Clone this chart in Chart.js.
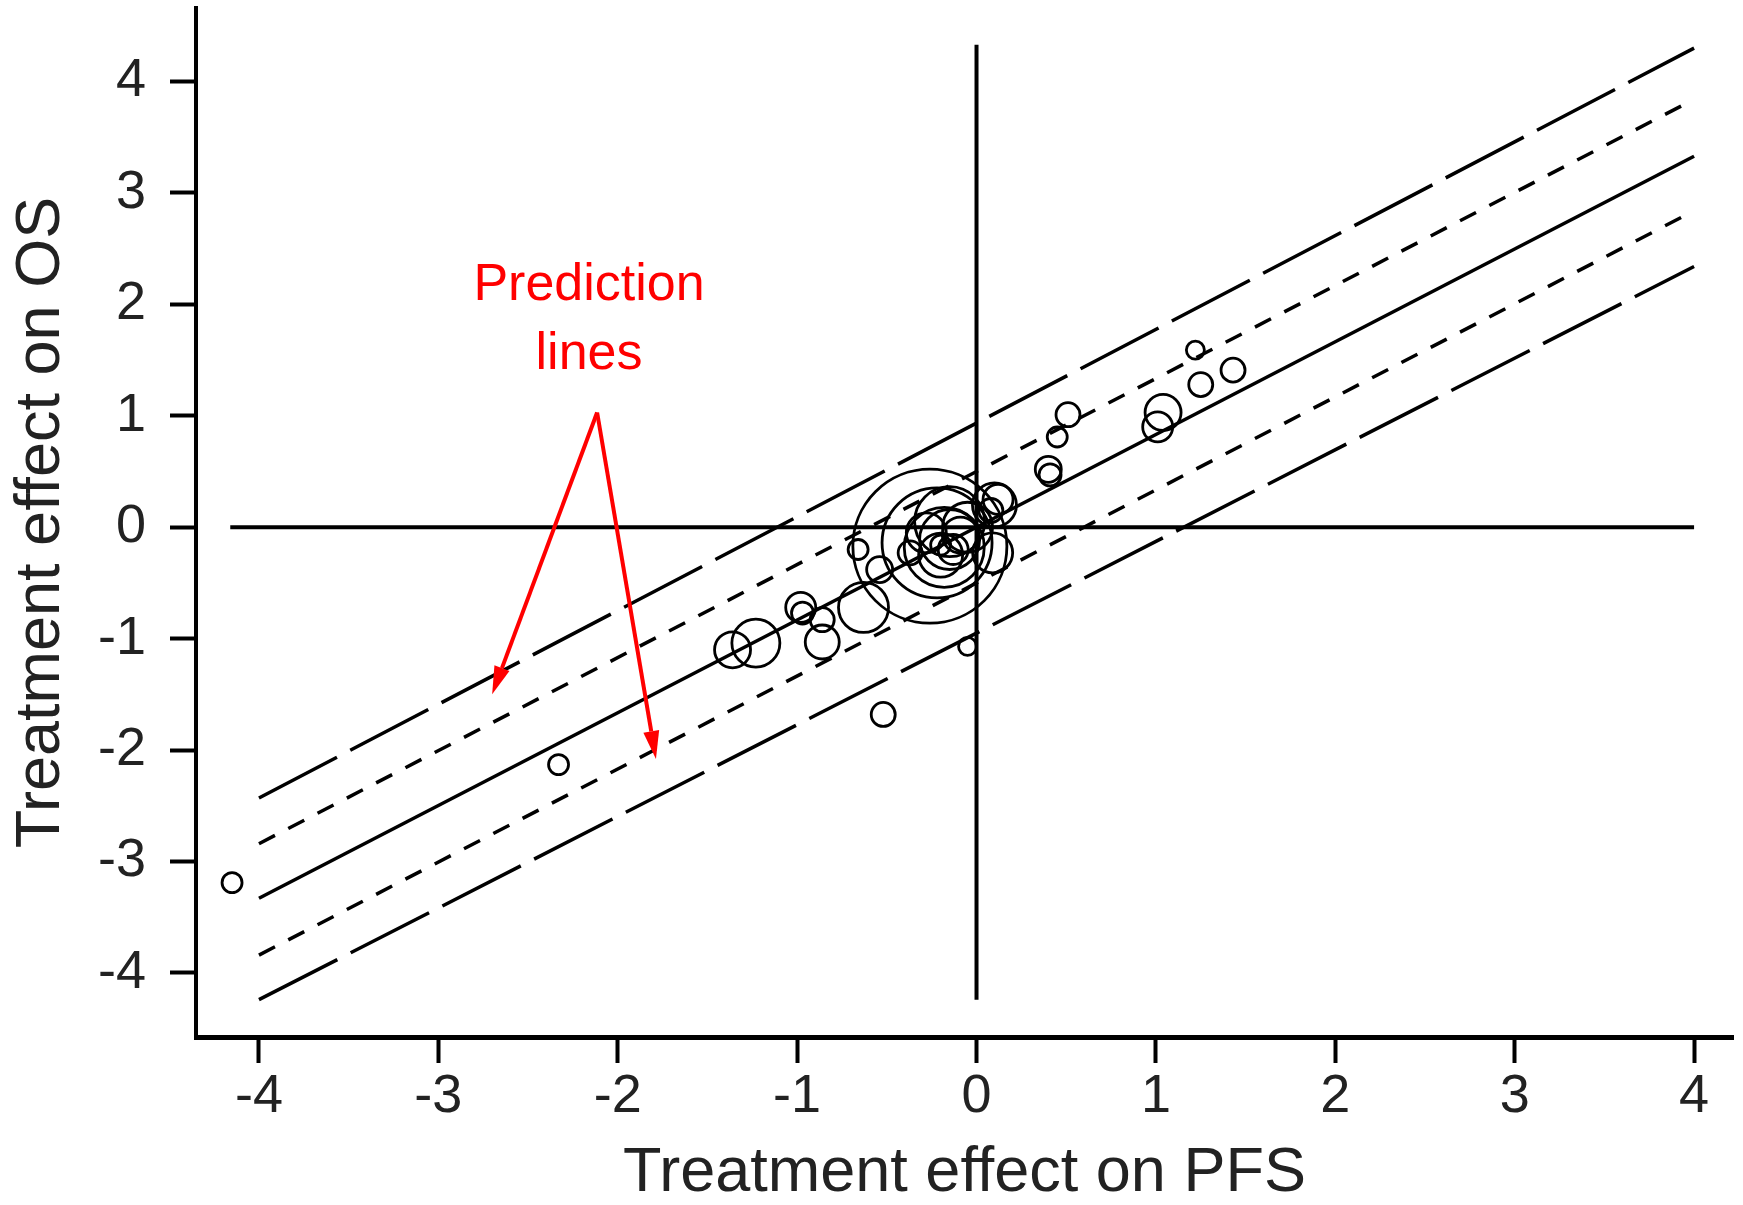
<!DOCTYPE html>
<html lang="en">
<head>
    <meta charset="UTF-8">
    <title>Treatment effect on PFS vs OS</title>
    <script src="https://cdn.jsdelivr.net/npm/chart.js"></script>
    <style>
        body {
            margin: 0;
            background: #fff;
        }
        canvas {
            display: block;
        }
    </style>
</head>
<body>
    <canvas id="myChart" width="1743" height="1205"></canvas>

    <script>
        // trial-level treatment effects (PFS on x, OS on y) and bubble size
        const trialPFS = [-4.15, -2.33, -1.36, -1.23, -0.98, -0.97, -0.86, -0.86, -0.63, -0.66, -0.52, -0.54,
            -0.37, -0.26, -0.22, -0.18, -0.15, -0.20, -0.13, -0.20, -0.09, -0.28, 0.10, 0.12, 0.08, 0.09,
            -0.05, 0.40, 0.41, 0.45, 0.51, 1.04, 1.01, 1.25, 1.43, 1.22, -0.15, -0.05];
        const trialOS = [-3.19, -2.13, -1.10, -1.04, -0.72, -0.77, -1.03, -0.83, -0.72, -0.20, -1.68, -0.38,
            -0.23, -0.17, -0.14, -0.18, -0.11, -0.25, -0.20, -0.16, -0.07, -0.05, 0.20, 0.25, 0.15, -0.23,
            -1.07, 0.52, 0.47, 0.81, 1.01, 1.03, 0.90, 1.28, 1.41, 1.59, 0.05, 0.00];
        const trialSize = [10, 10, 18, 24, 15, 11, 17, 12, 25, 10, 12, 13,
            12, 77, 55, 40, 30, 22, 15, 10, 18, 20, 22, 15, 12, 20,
            9, 13, 11, 10, 12, 18, 15, 12, 12, 9, 35, 25];

        // regression line and prediction limits, at x = -4 and x = 4
        const predX = [-4, 4];
        const predCentral = [-3.33, 3.33];
        const predInnerUpper = [-2.84, 3.84];
        const predInnerLower = [-3.84, 2.84];
        const predOuterUpper = [-2.43, 4.30];
        const predOuterLower = [-4.24, 2.34];

        // zero reference lines
        const zeroLineX = [-4.16, 4.0];
        const zeroLineY = [4.33, -4.24];

        const xTickValues = [-4, -3, -2, -1, 0, 1, 2, 3, 4];
        const yTickValues = [-4, -3, -2, -1, 0, 1, 2, 3, 4];

        const FONT = "'Liberation Sans', Arial, sans-serif";

        function pairs(xs, ys) {
            return xs.map((x, i) => ({ x: x, y: ys[i] }));
        }

        function lineSet(label, ys, dash) {
            return {
                type: 'line',
                label: label,
                data: pairs(predX, ys),
                borderColor: '#000',
                borderWidth: 3.5,
                borderDash: dash,
                pointRadius: 0,
                fill: false
            };
        }

        // no extra room for edge labels, the chart area is fixed
        function noPadding(scale) {
            scale.paddingTop = 0;
            scale.paddingBottom = 0;
            scale.paddingLeft = 0;
            scale.paddingRight = 0;
        }

        const annotations = {
            id: 'annotations',
            afterDatasetsDraw(chart) {
                const ctx = chart.ctx;
                const xs = chart.scales.x;
                const ys = chart.scales.y;
                ctx.save();
                ctx.fillStyle = '#ff0000';
                ctx.strokeStyle = '#ff0000';
                ctx.font = '52px ' + FONT;
                ctx.textAlign = 'center';
                ctx.textBaseline = 'alphabetic';
                ctx.fillText('Prediction', xs.getPixelForValue(-2.16), ys.getPixelForValue(2.04));
                ctx.fillText('lines', xs.getPixelForValue(-2.16), ys.getPixelForValue(1.42));

                const sx = xs.getPixelForValue(-2.115), sy = ys.getPixelForValue(1.03);
                [[-2.70, -1.50], [-1.787, -2.08]].forEach(([ex, ey]) => {
                    const tx = xs.getPixelForValue(ex), ty = ys.getPixelForValue(ey);
                    const a = Math.atan2(ty - sy, tx - sx);
                    const len = 28, hw = 8;
                    const bx = tx - len * Math.cos(a), by = ty - len * Math.sin(a);
                    ctx.lineWidth = 4;
                    ctx.beginPath();
                    ctx.moveTo(sx, sy);
                    ctx.lineTo(bx, by);
                    ctx.stroke();
                    ctx.beginPath();
                    ctx.moveTo(tx, ty);
                    ctx.lineTo(bx + hw * Math.sin(a), by - hw * Math.cos(a));
                    ctx.lineTo(bx - hw * Math.sin(a), by + hw * Math.cos(a));
                    ctx.closePath();
                    ctx.fill();
                });
                ctx.restore();
            }
        };

        const ctx = document.getElementById('myChart').getContext('2d');
        new Chart(ctx, {
            type: 'bubble',
            data: {
                datasets: [
                    {
                        type: 'line',
                        label: 'zero OS',
                        data: zeroLineX.map(x => ({ x: x, y: 0 })),
                        borderColor: '#000',
                        borderWidth: 4,
                        pointRadius: 0
                    },
                    {
                        type: 'line',
                        label: 'zero PFS',
                        data: zeroLineY.map(y => ({ x: 0, y: y })),
                        borderColor: '#000',
                        borderWidth: 4,
                        pointRadius: 0
                    },
                    lineSet('regression', predCentral, []),
                    lineSet('inner upper', predInnerUpper, [18, 15]),
                    lineSet('inner lower', predInnerLower, [18, 15]),
                    lineSet('outer upper', predOuterUpper, [88, 15]),
                    lineSet('outer lower', predOuterLower, [88, 15]),
                    {
                        label: 'trials',
                        data: trialPFS.map((x, i) => ({ x: x, y: trialOS[i], r: trialSize[i] })),
                        backgroundColor: 'rgba(0,0,0,0)',
                        borderColor: '#000',
                        borderWidth: 2.8,
                        hoverRadius: 0
                    }
                ]
            },
            options: {
                responsive: false,
                animation: false,
                layout: {
                    autoPadding: false,
                    padding: { top: 8, right: 10, left: 0, bottom: 0 }
                },
                plugins: {
                    legend: { display: false },
                    tooltip: { enabled: false }
                },
                scales: {
                    x: {
                        type: 'linear',
                        min: -4.351,
                        max: 4.217,
                        afterBuildTicks: scale => { scale.ticks = xTickValues.map(v => ({ value: v })); },
                        afterFit: scale => { scale.height = 168; noPadding(scale); },
                        ticks: {
                            color: '#222',
                            font: { family: FONT, size: 54 },
                            padding: 2,
                            maxRotation: 0,
                            callback: v => String(v)
                        },
                        grid: {
                            drawOnChartArea: false,
                            drawTicks: true,
                            tickLength: 26,
                            tickWidth: 4,
                            tickColor: '#000'
                        },
                        border: { display: true, color: '#000', width: 5 },
                        title: {
                            display: true,
                            text: 'Treatment effect on PFS',
                            color: '#222',
                            font: { family: FONT, size: 63, lineHeight: 1 },
                            padding: { top: 0, bottom: 0 }
                        }
                    },
                    y: {
                        type: 'linear',
                        min: -4.575,
                        max: 4.66,
                        afterBuildTicks: scale => { scale.ticks = yTickValues.map(v => ({ value: v })); },
                        afterFit: scale => { scale.width = 196; noPadding(scale); },
                        ticks: {
                            color: '#222',
                            font: { family: FONT, size: 54 },
                            padding: 24,
                            callback: v => String(v)
                        },
                        grid: {
                            drawOnChartArea: false,
                            drawTicks: true,
                            tickLength: 26,
                            tickWidth: 4,
                            tickColor: '#000'
                        },
                        border: { display: true, color: '#000', width: 4 },
                        title: {
                            display: true,
                            text: 'Treatment effect on OS',
                            color: '#222',
                            font: { family: FONT, size: 63, lineHeight: 1 },
                            padding: { top: 10, bottom: 0 }
                        }
                    }
                }
            },
            plugins: [annotations]
        });
    </script>
</body>
</html>
